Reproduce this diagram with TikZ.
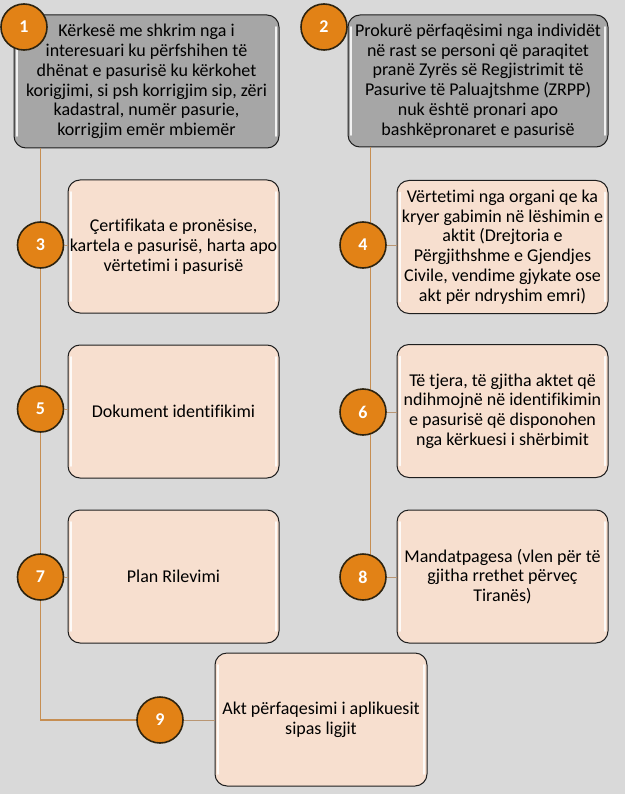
\documentclass[tikz,border=0pt]{standalone}
\usepackage{fontspec}
\setmainfont{Carlito}[Ligatures={NoCommon}]
\usepackage{tikz}
\usetikzlibrary{calc}
\definecolor{bgcol}{RGB}{217,217,217}
\definecolor{peach}{RGB}{247,223,207}
\definecolor{topgray}{RGB}{166,166,166}
\definecolor{boxline}{RGB}{30,30,30}
\definecolor{numorange}{RGB}{226,130,22}
\definecolor{numline}{RGB}{45,35,15}
\definecolor{spinecol}{RGB}{198,142,82}
\definecolor{linkcol}{RGB}{185,150,115}
\tikzset{
	box/.style={draw=boxline, line width=1pt, rounded corners=12pt, fill=peach,
		minimum width=211pt, minimum height=133pt, inner sep=0pt, align=center,
		font=\fontsize{18}{19.8}\selectfont,
		path picture={
			\draw[white, line width=1.8pt, line cap=round, opacity=0.85]
			([xshift=3pt,yshift=-12pt]path picture bounding box.north west) -- ([xshift=3pt,yshift=12pt]path picture bounding box.south west);
			\draw[white, line width=1.8pt, line cap=round, opacity=0.85]
			([xshift=-3pt,yshift=-12pt]path picture bounding box.north east) -- ([xshift=-3pt,yshift=12pt]path picture bounding box.south east);
	}},
	topbox/.style={box, fill=topgray},
	num/.style={circle, draw=numline, line width=1.6pt, fill=numorange, minimum size=46pt,
		inner sep=0pt, text=white, font=\bfseries\fontsize{18}{18}\selectfont},
	spine/.style={draw=spinecol, line width=1.2pt},
	link/.style={draw=linkcol, line width=0.8pt}
}

\begin{document}
\begin{tikzpicture}[x=1pt, y=-1pt]
			%%%%% START %%%%%
			
			\fill[bgcol] (0, 0) rectangle (625, 794);
			\useasboundingbox (0, 0) rectangle (625, 794);
			
			\node[topbox, minimum width=265pt] (b1) at (146.5, 81.5) {Kërkesë me shkrim nga i\\interesuari ku përfshihen të\\dhënat e pasurisë ku kërkohet\\korigjimi, si psh korrigjim sip, zëri\\kadastral, numër pasurie,\\korrigjim emër mbiemër};
			\node[topbox, minimum width=260pt, minimum height=132pt] (b2) at (478, 81) {Prokurë përfaqësimi nga individët\\në rast se personi që paraqitet\\pranë Zyrës së Regjistrimit të\\Pasurive të Paluajtshme (ZRPP)\\nuk është pronari apo\\bashkëpronaret e pasurisë};
			
			\node[box] (b3) at (173.5, 246.5) {Çertifikata e pronësise,\\kartela e pasurisë, harta apo\\vërtetimi i pasurisë};
			\node[box] (b4) at (502.5, 247) {Vërtetimi nga organi qe ka\\kryer gabimin në lëshimin e\\aktit (Drejtoria e\\Përgjithshme e Gjendjes\\Civile, vendime gjykate ose\\akt për ndryshim emri)};
			\node[box] (b5) at (173.5, 411.5) {Dokument identifikimi};
			\node[box] (b6) at (502.5, 411) {Të tjera, të gjitha aktet që\\ndihmojnë në identifikimin\\e pasurisë që disponohen\\nga kërkuesi i shërbimit};
			\node[box] (b7) at (173.5, 576.5) {Plan Rilevimi};
			\node[box] (b8) at (502.5, 576.5) {Mandatpagesa (vlen për të\\gjitha rrethet përveç\\Tiranës)};
			\node[box, minimum width=212pt] (b9) at (321, 719.5) {Akt përfaqesimi i aplikuesit\\sipas ligjit};
			
			\coordinate (p1) at (24, 27);
			\coordinate (p2) at (324, 27);
			\coordinate (p3) at (40.5, 245);
			\coordinate (p4) at (363, 245);
			\coordinate (p5) at (40.5, 409);
			\coordinate (p6) at (363, 412);
			\coordinate (p7) at (40.5, 577);
			\coordinate (p8) at (363, 577);
			\coordinate (p9) at (160, 720);
			\coordinate (rs) at (370.7, 577);
			
			\draw[spine] (b1.south -| p3) -- (p3 |- p9) -- (p9);
			\draw[spine] (b2.south -| rs) -- (rs);
			
			\foreach \k in {1,...,9}
				\node[num] (n\k) at (p\k) {\k};
			
			\foreach \k in {3,...,9}
				\draw[link] (n\k.east) -- (n\k.east -| b\k.west);
			
			%%%%% END %%%%%
\end{tikzpicture}
\end{document}
